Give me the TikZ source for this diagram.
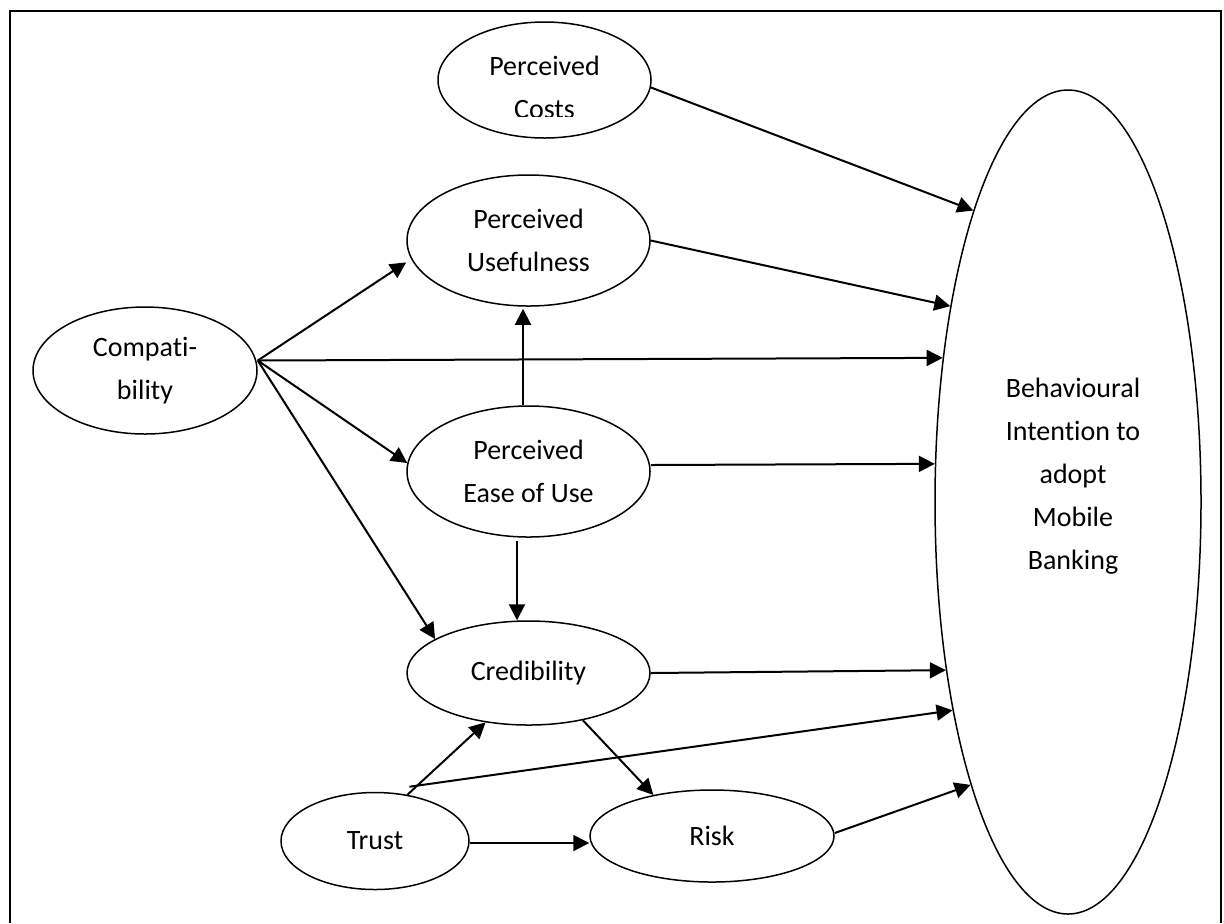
\documentclass[tikz,border=0pt]{standalone}
\usepackage{fontspec}
\setmainfont{Carlito}[RawFeature={-liga;-clig;-dlig;-calt}]
\usetikzlibrary{shapes.geometric,arrows.meta}
\begin{document}
\begin{tikzpicture}[x=0.5pt,y=-0.5pt,
  ell/.style={draw,ellipse,line width=0.75pt,inner sep=0pt,align=center,font=\fontsize{14}{21.5}\selectfont},
  lbl/.style={align=center,inner sep=0pt,font=\fontsize{14}{21.5}\selectfont},
  arr/.style={line width=1pt,-{Triangle[length=8pt,width=8pt]}}]
\useasboundingbox (0,0) rectangle (1224,923);
\draw[line width=0.8pt] (10,923) -- (10,11) -- (1221,11) -- (1221,923);

\node[ell,minimum width=106.5pt,minimum height=58pt] (costs) at (544.5,80) {};
\begin{scope}
\clip (430,20) rectangle (660,116);
\node[lbl] (coststext) at (544.5,87) {Perceived\\Costs};
\end{scope}
\node[ell,minimum width=121.5pt,minimum height=65.5pt] (pu) at (528.5,240.5) {Perceived\\Usefulness};
\node[ell,minimum width=121.5pt,minimum height=65.5pt] (peou) at (528.5,471.5) {Perceived\\Ease of Use};
\node[ell,minimum width=121.5pt,minimum height=52pt] (cred) at (528.5,673) {Credibility};
\node[ell,minimum width=112pt,minimum height=63.5pt] (compat) at (145,370.5) {Compat\kern0pti-\\bility};
\node[ell,minimum width=94pt,minimum height=48.5pt] (trust) at (375,841) {Trust};
\node[ell,minimum width=122pt,minimum height=46pt] (risk) at (712,836) {Risk};
\node[ell,minimum width=133pt,minimum height=412pt] (bi) at (1068,502) {};
\node[lbl] (bitext) at (1073,476) {Behavioural\\Intent\kern0pti\kern0pton to\\adopt\\Mobile\\Banking};

\coordinate (cs) at ([yshift=5pt]compat.east);
\draw[arr] (costs.-4) -- (bi.108.6);
\draw[arr] (pu.east) -- (bi.121.2);
\draw[arr,shorten >=3pt] (cs) -- (pu.189.6);
\draw[arr] (cs) -- (bi.131.4);
\draw[arr] (cs) -- (peou.176.9);
\draw[arr] (cs) -- (cred.160.9);
\draw[arr] ([xshift=-2.75pt]peou.north) -- ([xshift=-2.75pt,yshift=-1pt]pu.south);
\draw[arr] ([xshift=-5.75pt,yshift=-1.5pt]peou.south) -- ([xshift=-5.75pt]cred.north);
\draw[arr] ([yshift=3.25pt]peou.east) -- (bi.164.4);
\draw[arr] (cred.east) -- (bi.234.6);
\draw[arr] (cred.-41.2) -- (risk.145.3);
\draw[arr] (trust.55) -- (cred.229.9);
\draw[arr] ([shift={(1pt,4pt)}]trust.55) -- (bi.241.35);
\draw[arr] ([yshift=-1pt]trust.east) -- ([yshift=-1pt]trust.east -| risk.west);
\draw[arr] ([yshift=1.5pt]risk.east) -- (bi.251.1);
\end{tikzpicture}
\end{document}
